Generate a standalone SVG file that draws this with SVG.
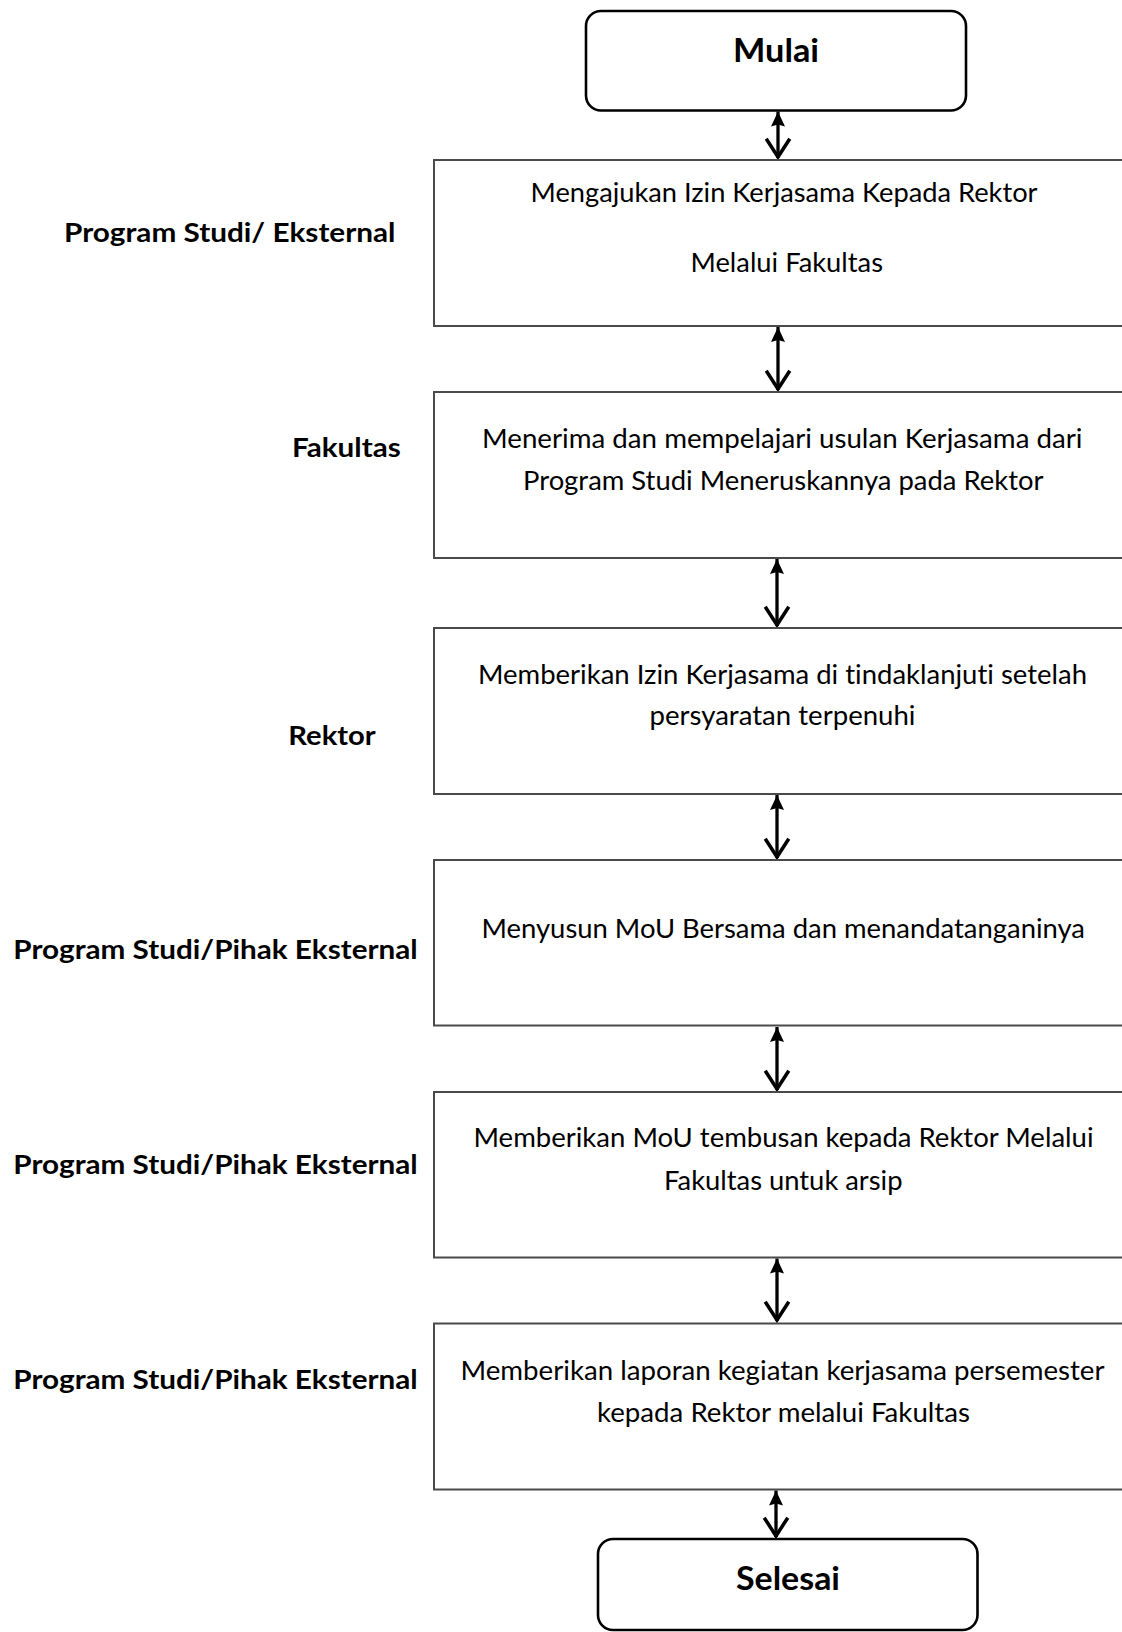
<svg xmlns="http://www.w3.org/2000/svg" width="1122" height="1632" viewBox="0 0 1122 1632">
<style>
  .bg { fill: #ffffff; }
  .term { fill: #ffffff; stroke: #000000; stroke-width: 2.6; }
  .box { fill: #ffffff; stroke: #4a4a4a; stroke-width: 2; }
  .t { font-family: Lato, "Open Sans", "Liberation Sans", sans-serif; font-size: 27.5px; fill: #000000; font-variant-ligatures: none; }
  .lb { font-family: Lato, "Open Sans", "Liberation Sans", sans-serif; font-size: 26.5px; font-weight: bold; fill: #000000; font-variant-ligatures: none; }
  .tt { font-family: Lato, "Open Sans", "Liberation Sans", sans-serif; font-size: 32px; font-weight: bold; fill: #000000; }
  .conn { fill: none; stroke: #000000; stroke-width: 3.3; marker-start: url(#headUp); marker-end: url(#headDown); }
</style>
<defs>
  <marker id="headUp" markerUnits="userSpaceOnUse" markerWidth="30" markerHeight="30" viewBox="-2 -10 30 20" refX="0" refY="0" orient="auto" overflow="visible">
    <path d="M0,0 L15,-7 L13,0 L15,7 Z" fill="#000000"/>
  </marker>
  <marker id="headDown" markerUnits="userSpaceOnUse" markerWidth="30" markerHeight="30" viewBox="-22 -14 26 28" refX="0" refY="0" orient="auto" overflow="visible">
    <path d="M-18,-11 L-1,0 L-18,11" fill="none" stroke="#000000" stroke-width="3.3" stroke-linejoin="miter"/>
  </marker>
</defs>
<rect class="bg" x="0" y="0" width="1122" height="1632"/>

<g id="connectors">
  <path class="conn" d="M778,111.5 L778,158"/>
  <path class="conn" d="M778,327 L778,390"/>
  <path class="conn" d="M777,559 L777,626"/>
  <path class="conn" d="M777,795 L777,858"/>
  <path class="conn" d="M777,1027 L777,1090"/>
  <path class="conn" d="M777,1258.5 L777,1321"/>
  <path class="conn" d="M776,1490.5 L776,1537"/>
</g>

<g id="mulai">
  <rect class="term" x="586" y="11" width="380" height="99.5" rx="15" ry="15"/>
  <text class="tt" x="733" y="62.3" textLength="86" lengthAdjust="spacingAndGlyphs">Mulai</text>
</g>

<g id="step1">
  <rect class="box" x="434" y="160" width="700" height="166"/>
  <text class="t" x="530.5" y="202" textLength="507" lengthAdjust="spacingAndGlyphs">Mengajukan Izin Kerjasama Kepada Rektor</text>
  <text class="t" x="690.5" y="272" textLength="192.5" lengthAdjust="spacingAndGlyphs">Melalui Fakultas</text>
</g>

<g id="step2">
  <rect class="box" x="434" y="392" width="700" height="166"/>
  <text class="t" x="482" y="448" textLength="600.5" lengthAdjust="spacingAndGlyphs">Menerima dan mempelajari usulan Kerjasama dari</text>
  <text class="t" x="523" y="490" textLength="520.5" lengthAdjust="spacingAndGlyphs">Program Studi Meneruskannya pada Rektor</text>
</g>

<g id="step3">
  <rect class="box" x="434" y="628" width="700" height="166"/>
  <text class="t" x="478" y="684" textLength="609" lengthAdjust="spacingAndGlyphs">Memberikan Izin Kerjasama di tindaklanjuti setelah</text>
  <text class="t" x="649.5" y="725" textLength="266" lengthAdjust="spacingAndGlyphs">persyaratan terpenuhi</text>
</g>

<g id="step4">
  <rect class="box" x="434" y="860" width="700" height="165.5"/>
  <text class="t" x="481.5" y="938" textLength="603.5" lengthAdjust="spacingAndGlyphs">Menyusun MoU Bersama dan menandatanganinya</text>
</g>

<g id="step5">
  <rect class="box" x="434" y="1092" width="700" height="165.5"/>
  <text class="t" x="473.5" y="1147" textLength="620" lengthAdjust="spacingAndGlyphs">Memberikan MoU tembusan kepada Rektor Melalui</text>
  <text class="t" x="664" y="1190" textLength="238.5" lengthAdjust="spacingAndGlyphs">Fakultas untuk arsip</text>
</g>

<g id="step6">
  <rect class="box" x="434" y="1323.5" width="700" height="166"/>
  <text class="t" x="460.5" y="1380" textLength="644" lengthAdjust="spacingAndGlyphs">Memberikan laporan kegiatan kerjasama persemester</text>
  <text class="t" x="597" y="1421.5" textLength="373" lengthAdjust="spacingAndGlyphs">kepada Rektor melalui Fakultas</text>
</g>

<g id="selesai">
  <rect class="term" x="598" y="1539" width="379.5" height="91" rx="15" ry="15"/>
  <text class="tt" x="736" y="1590" textLength="104" lengthAdjust="spacingAndGlyphs">Selesai</text>
</g>

<g id="labels">
  <text class="lb" x="64" y="242" textLength="331.5" lengthAdjust="spacingAndGlyphs">Program Studi/ Eksternal</text>
  <text class="lb" x="292" y="457" textLength="108.7" lengthAdjust="spacingAndGlyphs">Fakultas</text>
  <text class="lb" x="288.3" y="744.5" textLength="87.4" lengthAdjust="spacingAndGlyphs">Rektor</text>
  <text class="lb" x="13.3" y="959" textLength="404.4" lengthAdjust="spacingAndGlyphs">Program Studi/Pihak Eksternal</text>
  <text class="lb" x="13.3" y="1173.5" textLength="404.4" lengthAdjust="spacingAndGlyphs">Program Studi/Pihak Eksternal</text>
  <text class="lb" x="13.3" y="1388.5" textLength="404.4" lengthAdjust="spacingAndGlyphs">Program Studi/Pihak Eksternal</text>
</g>
</svg>
